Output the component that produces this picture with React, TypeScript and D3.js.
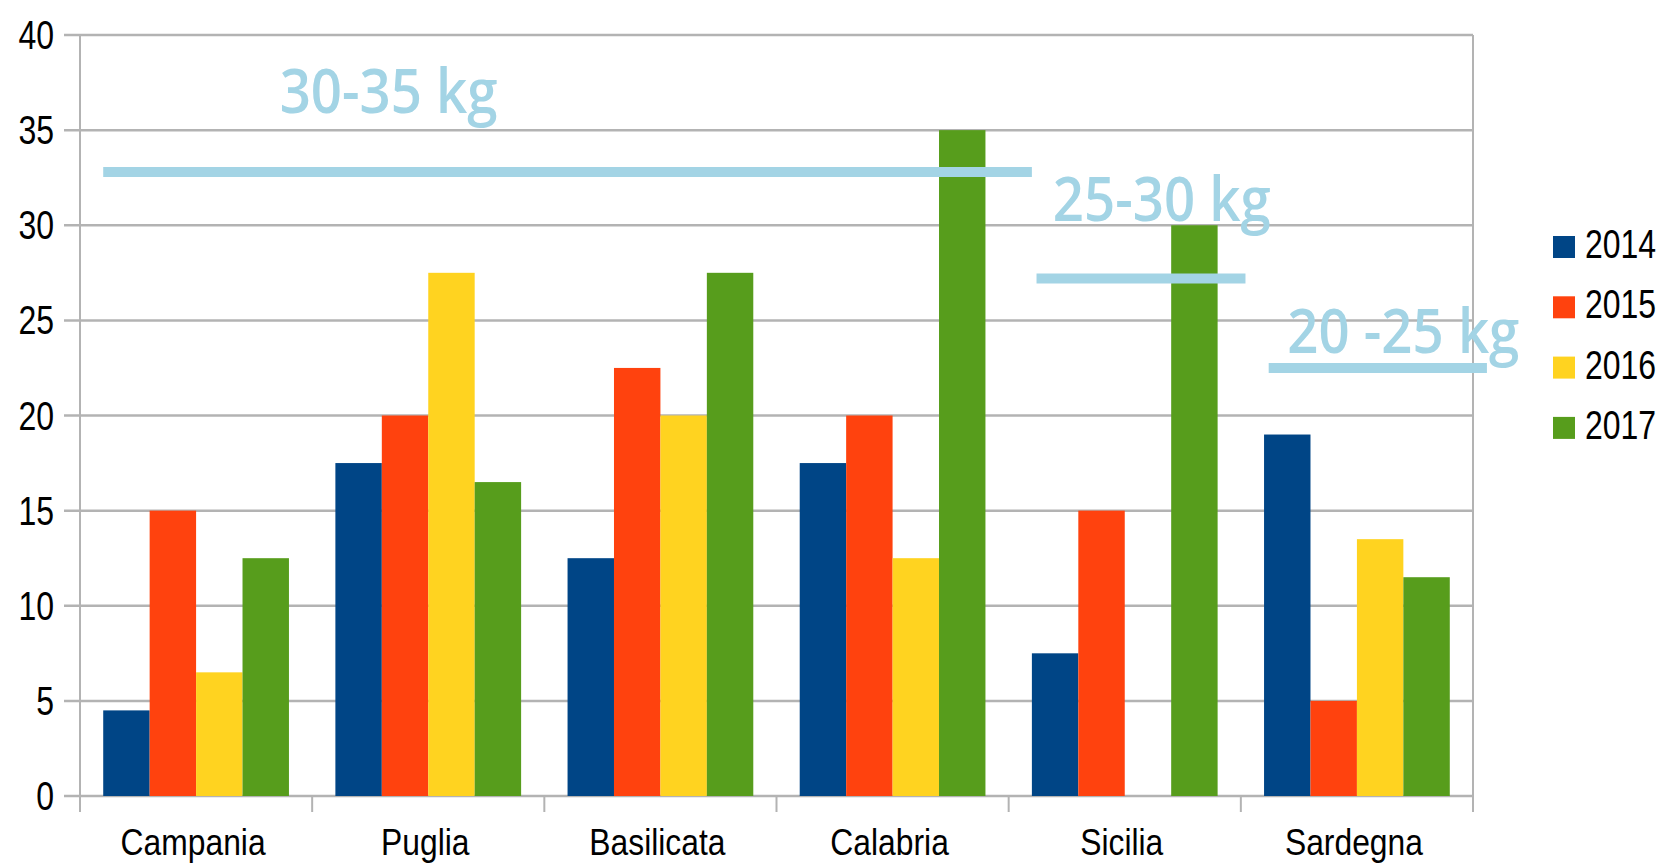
import { useEffect, useRef } from "react"
import * as d3 from "d3"

const categories = ["Campania", "Puglia", "Basilicata", "Calabria", "Sicilia", "Sardegna"]
const years = ["2014", "2015", "2016", "2017"]
const values2014 = [4.5, 17.5, 12.5, 17.5, 7.5, 19]
const values2015 = [15, 20, 22.5, 20, 15, 5]
const values2016 = [6.5, 27.5, 20, 12.5, 0, 13.5]
const values2017 = [12.5, 16.5, 27.5, 35, 30, 11.5]
const yTicks = [0, 5, 10, 15, 20, 25, 30, 35, 40]

// annotation ranges, x in category units, y in kg
const rangeLabels = ["30-35 kg", "25-30 kg", "20 -25 kg"]
const rangeLineX = [
  [0.1, 4.1],
  [4.12, 5.02],
  [5.12, 6.06],
]
const rangeLineY = [32.8, 27.2, 22.5]
const rangeTextX = [0.86, 4.19, 5.2]
const rangeTextY = [35.9, 30.2, 23.3]

const series = [values2014, values2015, values2016, values2017]
const colors = ["#004586", "#ff420e", "#ffd320", "#579d1c"]

export default function App() {
  const svgRef = useRef<SVGSVGElement>(null)

  useEffect(() => {
    if (!svgRef.current) return
    const W = 1664
    const H = 868
    const margin = { top: 35, right: 191, bottom: 72, left: 80 }
    const innerW = W - margin.left - margin.right
    const innerH = H - margin.top - margin.bottom

    const svg = d3.select(svgRef.current)
    svg.selectAll("*").remove()
    svg.attr("width", W).attr("height", H)

    const g = svg.append("g").attr("transform", `translate(${margin.left},${margin.top})`)

    const x0 = d3.scaleBand().domain(categories).range([0, innerW]).paddingInner(0.2).paddingOuter(0.1)
    const x1 = d3.scaleBand().domain(years).range([0, x0.bandwidth()]).padding(0)
    const xc = d3.scaleLinear().domain([0, categories.length]).range([0, innerW])
    const y = d3.scaleLinear().domain([0, 40]).range([innerH, 0])

    const grey = "#b3b3b3"
    const font = "'Liberation Sans', Arial, sans-serif"

    // grid + left ticks
    g.append("g")
      .selectAll("line")
      .data(yTicks)
      .join("line")
      .attr("x1", -16)
      .attr("x2", innerW)
      .attr("y1", (d) => y(d))
      .attr("y2", (d) => y(d))
      .attr("stroke", grey)
      .attr("stroke-width", 2.5)

    // left axis line
    g.append("line").attr("x1", 0).attr("x2", 0).attr("y1", 0).attr("y2", innerH + 16).attr("stroke", grey).attr("stroke-width", 2)

    // category ticks (last one doubles as right border)
    g.append("g")
      .selectAll("line")
      .data(d3.range(categories.length + 1))
      .join("line")
      .attr("x1", (d) => xc(d))
      .attr("x2", (d) => xc(d))
      .attr("y1", (d) => (d === categories.length ? 0 : innerH))
      .attr("y2", innerH + 16)
      .attr("stroke", grey)
      .attr("stroke-width", 2)

    // y labels
    g.append("g")
      .selectAll("text")
      .data(yTicks)
      .join("text")
      .attr("transform", (d) => `translate(-26,${y(d) + 14}) scale(0.8,1)`)
      .attr("text-anchor", "end")
      .style("font-family", font)
      .style("font-size", "40px")
      .style("fill", "#000")
      .text((d) => d)

    // x labels
    g.append("g")
      .selectAll("text")
      .data(categories)
      .join("text")
      .attr("transform", (d) => `translate(${(x0(d) ?? 0) + x0.bandwidth() / 2 - 3},${innerH + 59}) scale(0.86,1)`)
      .attr("text-anchor", "middle")
      .style("font-family", font)
      .style("font-size", "37px")
      .style("fill", "#000")
      .text((d) => d)

    // bars
    series.forEach((vals, si) => {
      g.append("g")
        .selectAll("rect")
        .data(vals)
        .join("rect")
        .attr("x", (_, i) => (x0(categories[i]) ?? 0) + (x1(years[si]) ?? 0))
        .attr("width", x1.bandwidth())
        .attr("y", (d) => y(d))
        .attr("height", (d) => innerH - y(d))
        .attr("fill", colors[si])
    })

    // range annotations
    const blue = "#a3d4e5"
    rangeLabels.forEach((label, i) => {
      g.append("line")
        .attr("x1", xc(rangeLineX[i][0]))
        .attr("x2", xc(rangeLineX[i][1]))
        .attr("y1", y(rangeLineY[i]))
        .attr("y2", y(rangeLineY[i]))
        .attr("stroke", blue)
        .attr("stroke-width", 10)
      g.append("text")
        .attr("transform", `translate(${xc(rangeTextX[i])},${y(rangeTextY[i])}) scale(0.88,1)`)
        .style("font-family", "'Open Sans', 'Noto Sans', sans-serif")
        .style("font-weight", 600)
        .style("font-size", "62px")
        .style("fill", blue)
        .text(label)
    })

    // legend
    const legend = svg.append("g").attr("transform", `translate(1553, 236)`)
    years.forEach((yr, i) => {
      const lg = legend.append("g").attr("transform", `translate(0, ${i * 60.3})`)
      lg.append("rect").attr("width", 22).attr("height", 22).attr("fill", colors[i])
      lg.append("text")
        .attr("transform", "translate(32,22) scale(0.78,1)")
        .style("font-family", font)
        .style("font-size", "41px")
        .style("fill", "#000")
        .text(yr)
    })
  }, [])

  return (
    <div style={{ position: "absolute", left: 0, top: 0, background: "#fff" }}>
      <svg ref={svgRef} style={{ display: "block" }} />
    </div>
  )
}
